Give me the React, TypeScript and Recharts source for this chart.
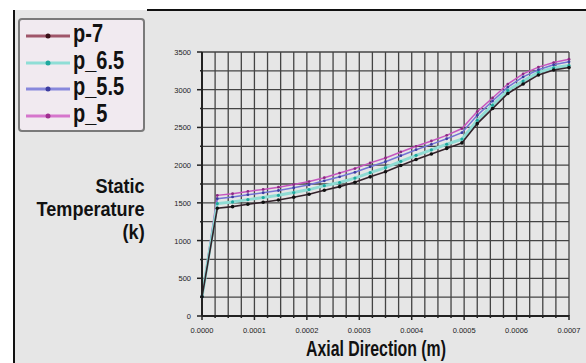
import { LineChart, Line, XAxis, YAxis, CartesianGrid } from "recharts";

// axial positions (m) where the solver wrote values
const axialPos = [
  0, 0.0000292, 0.0000583, 0.0000875, 0.0001167, 0.0001458, 0.000175, 0.0002042,
  0.0002333, 0.0002625, 0.0002917, 0.0003208, 0.00035, 0.0003792, 0.0004083,
  0.0004375, 0.0004667, 0.0004958, 0.000525, 0.0005542, 0.0005833, 0.0006125,
  0.0006417, 0.0006708, 0.0007,
];

// static temperature (K) per pressure case
const p7 = [255, 1428, 1450, 1481, 1508, 1538, 1574, 1614, 1668, 1715, 1772, 1845, 1912, 1995, 2075, 2148, 2222, 2295, 2550, 2750, 2950, 3076, 3196, 3262, 3295];
const p65 = [255, 1490, 1512, 1543, 1570, 1600, 1636, 1676, 1728, 1770, 1828, 1900, 1967, 2050, 2130, 2203, 2277, 2345, 2595, 2795, 2990, 3115, 3230, 3290, 3320];
const p55 = [255, 1555, 1578, 1608, 1634, 1664, 1700, 1740, 1792, 1845, 1905, 1978, 2045, 2125, 2205, 2275, 2350, 2430, 2660, 2850, 3035, 3170, 3265, 3330, 3370];
const p5 = [255, 1600, 1622, 1652, 1678, 1708, 1743, 1782, 1834, 1895, 1955, 2030, 2095, 2175, 2250, 2320, 2395, 2485, 2710, 2890, 3075, 3210, 3300, 3360, 3405];

const xTicks = [
  0, 0.000025, 0.00005, 0.000075, 0.0001, 0.000125, 0.00015, 0.000175, 0.0002,
  0.000225, 0.00025, 0.000275, 0.0003, 0.000325, 0.00035, 0.000375, 0.0004,
  0.000425, 0.00045, 0.000475, 0.0005, 0.000525, 0.00055, 0.000575, 0.0006,
  0.000625, 0.00065, 0.000675, 0.0007,
];
const yTicks = [0, 250, 500, 750, 1000, 1250, 1500, 1750, 2000, 2250, 2500, 2750, 3000, 3250, 3500];

const seriesNames = ["p-7", "p_6.5", "p_5.5", "p_5"];

const data = axialPos.map((x, i) => ({
  x,
  p7: p7[i],
  p65: p65[i],
  p55: p55[i],
  p5: p5[i],
}));

const sans = "'Liberation Sans', Arial, sans-serif";

const XTick = (props: any) => {
  const { x, y, payload } = props;
  const v = payload.value * 10000;
  const major = Math.abs(v - Math.round(v)) < 1e-6;
  return (
    <g>
      <line x1={x} x2={x} y1={y - 1} y2={y + (major ? 4 : 2)} stroke="#222" strokeWidth={1.5} />
      {major && (
        <text x={x} y={y + 17} textAnchor="middle" fontSize={7.5} fontFamily={sans} fill="#222">
          {payload.value.toFixed(4)}
        </text>
      )}
    </g>
  );
};

const YTick = (props: any) => {
  const { x, y, payload } = props;
  const major = payload.value % 500 === 0;
  return (
    <g>
      <line x1={x - (major ? 5 : 2)} x2={x} y1={y} y2={y} stroke="#222" strokeWidth={1.5} />
      {major && (
        <text x={x - 11} y={y + 3} textAnchor="end" fontSize={7.5} fontFamily={sans} fill="#222">
          {payload.value}
        </text>
      )}
    </g>
  );
};

const legendItems = [
  { name: seriesNames[0], line: "#a0566a", dot: "#3a1018" },
  { name: seriesNames[1], line: "#8fded6", dot: "#1fa89e" },
  { name: seriesNames[2], line: "#8888dc", dot: "#3c3ca0" },
  { name: seriesNames[3], line: "#d676cc", dot: "#a03090" },
];

export default function App() {
  return (
    <div style={{ position: "absolute", left: 0, top: 0, width: 586, height: 363, background: "#fff", overflow: "hidden" }}>
      <div style={{ position: "absolute", left: 13, top: 10, width: 573, height: 353, background: "#e6e6e6", borderLeft: "2px solid #111" }} />
      <div style={{ position: "absolute", left: 147, top: 9, width: 439, height: 2, background: "#111" }} />

      <div style={{ position: "absolute", left: 0, top: 0 }}>
        <LineChart width={586} height={363} data={data} margin={{ top: 52, right: 17, bottom: 0, left: 162 }}>
          <CartesianGrid stroke="#444" strokeWidth={1.3} />
          <XAxis
            dataKey="x"
            type="number"
            domain={[0, 0.0007]}
            ticks={xTicks}
            interval={0}
            tick={<XTick />}
            tickLine={false}
            tickSize={0}
            tickMargin={0}
            height={47}
            stroke="#222"
            strokeWidth={2}
          />
          <YAxis
            type="number"
            domain={[0, 3500]}
            ticks={yTicks}
            interval={0}
            tick={<YTick />}
            tickLine={false}
            tickSize={0}
            tickMargin={0}
            width={40}
            stroke="#222"
            strokeWidth={2}
          />
          <Line dataKey="p5" name={seriesNames[3]} stroke="#c655bf" strokeWidth={1.5} dot={{ r: 1.4, fill: "#8a2a80", stroke: "none" }} isAnimationActive={false} />
          <Line dataKey="p55" name={seriesNames[2]} stroke="#7373d4" strokeWidth={1.5} dot={{ r: 1.4, fill: "#3c3ca0", stroke: "none" }} isAnimationActive={false} />
          <Line dataKey="p65" name={seriesNames[1]} stroke="#8fdcd4" strokeWidth={3} dot={{ r: 1.6, fill: "#1fa89e", stroke: "none" }} isAnimationActive={false} />
          <Line dataKey="p7" name={seriesNames[0]} stroke="#33232b" strokeWidth={1.6} dot={{ r: 1.8, fill: "#111", stroke: "none" }} isAnimationActive={false} />
        </LineChart>
      </div>

      <div
        style={{
          position: "absolute",
          left: 18,
          top: 18,
          width: 123,
          height: 110,
          border: "2px solid #7a7a7a",
          borderRadius: 4,
          background: "#f1eaf0",
        }}
      >
        {legendItems.map((item, i) => (
          <div key={item.name} style={{ position: "absolute", left: 5, top: 3 + i * 26.5, height: 26, width: 120 }}>
            <svg width={46} height={26} style={{ position: "absolute", left: 0, top: 0 }}>
              <line x1={1} x2={45} y1={13} y2={13} stroke={item.line} strokeWidth={3} />
              <circle cx={23} cy={13} r={2.5} fill={item.dot} />
            </svg>
            <div
              style={{
                position: "absolute",
                left: 48,
                top: -3,
                fontFamily: sans,
                fontWeight: "bold",
                fontSize: 25,
                lineHeight: "26px",
                color: "#111",
                transform: "scaleX(0.8)",
                transformOrigin: "left center",
                whiteSpace: "nowrap",
              }}
            >
              {item.name}
            </div>
          </div>
        ))}
      </div>

      <div
        style={{
          position: "absolute",
          right: 586 - 145,
          top: 174,
          textAlign: "right",
          fontFamily: sans,
          fontWeight: "bold",
          fontSize: 21,
          lineHeight: "23px",
          color: "#111",
          transform: "scaleX(0.86)",
          transformOrigin: "right center",
          whiteSpace: "nowrap",
        }}
      >
        Static
        <br />
        Temperature
        <br />
        (k)
      </div>

      <div
        style={{
          position: "absolute",
          left: 376 - 120,
          width: 240,
          top: 336,
          textAlign: "center",
          fontFamily: sans,
          fontWeight: "bold",
          fontSize: 22,
          lineHeight: "26px",
          color: "#111",
          transform: "scaleX(0.72)",
          transformOrigin: "center center",
          whiteSpace: "nowrap",
        }}
      >
        Axial Direction (m)
      </div>
    </div>
  );
}
